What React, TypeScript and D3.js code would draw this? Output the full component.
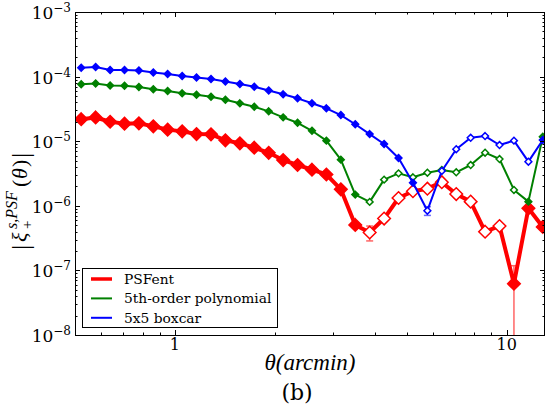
import React, { useEffect, useRef } from "react";
import * as d3 from "d3";

// angular bins (arcmin)
const theta = [
  0.522, 0.577, 0.638, 0.705, 0.779, 0.861, 0.951, 1.052, 1.162, 1.285, 1.42,
  1.57, 1.735, 1.918, 2.12, 2.343, 2.59, 2.862, 3.164, 3.497, 3.865, 4.272,
  4.722, 5.219, 5.769, 6.376, 7.048, 7.79, 8.61, 9.517, 10.52, 11.63, 12.85
];

// |xi_+| for each PSF model
const psfent = [
  2.19e-5, 2.33e-5, 2.0e-5, 1.87e-5, 1.89e-5, 1.7e-5, 1.51e-5, 1.42e-5, 1.29e-5,
  1.28e-5, 1.03e-5, 9.27e-6, 7.93e-6, 6.61e-6, 5.11e-6, 4.28e-6, 3.62e-6,
  3.05e-6, 1.8e-6, 5.05e-7, 3.86e-7, 6.35e-7, 1.32e-6, 1.68e-6, 1.84e-6,
  2.32e-6, 1.52e-6, 1.16e-6, 3.97e-7, 4.86e-7, 6.22e-8, 9.14e-7, 4.7e-7
];
const poly5 = [
  7.62e-5, 7.82e-5, 7.28e-5, 7.23e-5, 6.9e-5, 6.38e-5, 5.98e-5, 5.51e-5, 5.24e-5,
  4.88e-5, 4.39e-5, 3.86e-5, 3.42e-5, 2.9e-5, 2.34e-5, 1.93e-5, 1.45e-5, 1.02e-5,
  5.18e-6, 1.49e-6, 1.15e-6, 2.54e-6, 3.18e-6, 2.76e-6, 3.25e-6, 3.58e-6,
  3.3e-6, 4.28e-6, 6.64e-6, 5.3e-6, 1.76e-6, 1.16e-6, 1.17e-5
];
const boxcar = [
  1.374e-4, 1.41e-4, 1.265e-4, 1.265e-4, 1.242e-4, 1.156e-4, 1.096e-4, 1.021e-4,
  9.68e-5, 9.18e-5, 8.4e-5, 7.68e-5, 6.98e-5, 6.1e-5, 5.32e-5, 4.61e-5, 3.86e-5,
  3.23e-5, 2.54e-5, 1.83e-5, 1.29e-5, 9.05e-6, 5.5e-6, 2.28e-6, 8.4e-7, 3.46e-6,
  7.51e-6, 1.13e-5, 1.2e-5, 8.73e-6, 1.02e-5, 4.82e-6, 1.045e-5
];

// 1 = negative value (open marker)
const psfentNeg = [0,0,0,0,0,0,0,0,0,0,0,0,0,0,0,0,0,0,0,0,1,1,1,1,1,1,1,1,1,1,0,0,0];
const poly5Neg = [0,0,0,0,0,0,0,0,0,0,0,0,0,0,0,0,0,0,0,0,1,1,1,1,1,1,1,1,1,1,1,0,0];
const boxcarNeg = [0,0,0,0,0,0,0,0,0,0,0,0,0,0,0,0,0,0,0,0,0,0,0,0,1,1,1,1,1,1,1,1,0];

// error bars (only the visible ones)
const psfentErr = [0,0,0,0,0,0,0,0,0,0,0,0,0,0,0,0,0,0,0,0,1.0e-7,0,0,0,0,0,0,0,0,0,5.6e-8,0,0];
const poly5Err = [0,0,0,0,0,0,0,0,0,0,0,0,0,0,0,0,0,0,0,0,0,0,0,0,0,0,0,0,0,0,0,0,0];
const boxcarErr = [0,0,0,0,0,0,0,0,0,0,0,0,0,0,0,0,0,0,0,0,0,0,0,0,1.3e-7,0,0,0,0,0,0,0,0];

const labels = ["PSFent", "5th-order polynomial", "5x5 boxcar"];
const colors = ["#ff0000", "#008000", "#0000ff"];
const yTickExps = [-3, -4, -5, -6, -7, -8];

const W = 548;
const H = 412;
const left = 75, right = 545, top = 12, bottom = 335;

export default function App() {
  const ref = useRef<SVGSVGElement>(null);

  useEffect(() => {
    const svg = d3.select(ref.current);
    svg.selectAll("*").remove();

    const x = d3.scaleLog().domain([0.5, 13.05]).range([left, right]);
    const y = d3.scaleLog().domain([1e-8, 1e-3]).range([bottom, top]);

    svg.append("rect").attr("width", W).attr("height", H).attr("fill", "#fff");

    svg.append("clipPath").attr("id", "plotclip")
      .append("rect").attr("x", left).attr("y", top)
      .attr("width", right - left).attr("height", bottom - top);

    const plot = svg.append("g").attr("clip-path", "url(#plotclip)");

    const series = [
      { vals: psfent, neg: psfentNeg, err: psfentErr, lw: 4, r: 6.3, sw: 1.5 },
      { vals: poly5, neg: poly5Neg, err: poly5Err, lw: 2, r: 3.4, sw: 1.5 },
      { vals: boxcar, neg: boxcarNeg, err: boxcarErr, lw: 2, r: 3.4, sw: 1.5 }
    ];

    const diamond = (cx: number, cy: number, r: number) =>
      `M${cx},${cy - r}L${cx + r},${cy}L${cx},${cy + r}L${cx - r},${cy}Z`;

    series.forEach((s, si) => {
      const c = colors[si];
      const line = d3.line<number>()
        .x((d, i) => x(theta[i]))
        .y((d) => y(d));
      plot.append("path")
        .attr("d", line(s.vals))
        .attr("fill", "none")
        .attr("stroke", c)
        .attr("stroke-width", s.lw)
        .attr("stroke-linejoin", "round");

      // error bars
      s.vals.forEach((v, i) => {
        if (!s.err[i]) return;
        const lo = v - s.err[i] > 1e-9 ? y(v - s.err[i]) : bottom + 5;
        const hi = y(v + s.err[i]);
        const cx = x(theta[i]);
        const g = plot.append("g").attr("stroke", c).attr("stroke-width", 1.5).attr("opacity", 0.6);
        g.append("line").attr("x1", cx).attr("x2", cx).attr("y1", lo).attr("y2", hi);
        g.append("line").attr("x1", cx - 3.5).attr("x2", cx + 3.5).attr("y1", hi).attr("y2", hi);
        if (lo < bottom) g.append("line").attr("x1", cx - 3.5).attr("x2", cx + 3.5).attr("y1", lo).attr("y2", lo);
      });

      s.vals.forEach((v, i) => {
        plot.append("path")
          .attr("d", diamond(x(theta[i]), y(v), s.r))
          .attr("fill", s.neg[i] ? "#fff" : c)
          .attr("stroke", c)
          .attr("stroke-width", s.sw);
      });
    });

    // ticks on all four sides, pointing inward
    const axes = svg.append("g").attr("stroke", "#000").attr("stroke-width", 1);
    x.ticks().forEach((t) => {
      const major = Math.abs(Math.log10(t) - Math.round(Math.log10(t))) < 1e-9;
      const len = major ? 5 : 2.5;
      const px = Math.round(x(t)) + 0.5;
      axes.append("line").attr("x1", px).attr("x2", px).attr("y1", bottom).attr("y2", bottom - len);
      axes.append("line").attr("x1", px).attr("x2", px).attr("y1", top).attr("y2", top + len);
    });
    y.ticks().forEach((t) => {
      const major = Math.abs(Math.log10(t) - Math.round(Math.log10(t))) < 1e-9;
      const len = major ? 5 : 2.5;
      const py = Math.round(y(t)) + 0.5;
      axes.append("line").attr("x1", left).attr("x2", left + len).attr("y1", py).attr("y2", py);
      axes.append("line").attr("x1", right).attr("x2", right - len).attr("y1", py).attr("y2", py);
    });
    svg.append("rect")
      .attr("x", left + 0.5).attr("y", top + 0.5)
      .attr("width", right - left - 1).attr("height", bottom - top)
      .attr("fill", "none").attr("stroke", "#000").attr("stroke-width", 1);

    const font = "'DejaVu Serif', serif";

    // y tick labels
    yTickExps.forEach((e) => {
      const t = svg.append("text")
        .attr("x", 71).attr("y", y(Math.pow(10, e)) + 7)
        .attr("text-anchor", "end")
        .attr("font-family", font).attr("font-size", 17).attr("fill", "#000");
      t.append("tspan").text("10");
      t.append("tspan").attr("dy", -7).attr("font-size", 12).text("\u2212" + Math.abs(e));
    });

    // x tick labels
    [1, 10].forEach((v) => {
      svg.append("text")
        .attr("x", x(v)).attr("y", 350)
        .attr("text-anchor", "middle")
        .attr("font-family", font).attr("font-size", 16).attr("fill", "#000")
        .text(String(v));
    });

    const math = "'Liberation Serif', serif";
    svg.append("text")
      .attr("x", (left + right) / 2).attr("y", 370)
      .attr("text-anchor", "middle")
      .attr("font-family", math).attr("font-size", 23).attr("font-style", "italic")
      .attr("fill", "#000")
      .text("θ(arcmin)");

    svg.append("text")
      .attr("x", 297).attr("y", 400)
      .attr("text-anchor", "middle")
      .attr("font-family", font).attr("font-size", 22).attr("fill", "#000")
      .text("(b)");

    // y label, rotated
    const yl = svg.append("g")
      .attr("transform", "translate(27,187) rotate(-90)")
      .attr("font-family", math).attr("fill", "#000");
    yl.append("text").attr("x", -63).attr("y", 2).attr("font-size", 26).text("|");
    yl.append("text").attr("x", -55).attr("y", 0).attr("font-size", 22).attr("font-style", "italic").text("ξ");
    yl.append("text").attr("x", -42).attr("y", 5).attr("font-size", 15).text("+");
    yl.append("text").attr("x", -42).attr("y", -10).attr("font-size", 16).attr("font-style", "italic").text("s,PSF");
    yl.append("text").attr("x", 0).attr("y", 0).attr("font-size", 22).text("(");
    yl.append("text").attr("x", 8).attr("y", 0).attr("font-size", 22).attr("font-style", "italic").text("θ");
    yl.append("text").attr("x", 20).attr("y", 0).attr("font-size", 22).text(")");
    yl.append("text").attr("x", 29).attr("y", 2).attr("font-size", 26).text("|");

    // legend
    const lg = svg.append("g");
    lg.append("rect")
      .attr("x", 82.5).attr("y", 268.5).attr("width", 195).attr("height", 59)
      .attr("fill", "#fff").attr("stroke", "#000").attr("stroke-width", 1);
    labels.forEach((lab, i) => {
      const cy = 279 + i * 19.4;
      lg.append("line")
        .attr("x1", 91).attr("x2", 112).attr("y1", cy).attr("y2", cy)
        .attr("stroke", colors[i]).attr("stroke-width", i === 0 ? 3.5 : 2);
      lg.append("text")
        .attr("x", 124).attr("y", cy + 5)
        .attr("font-family", font).attr("font-size", 13.8).attr("fill", "#000")
        .text(lab);
    });
  }, []);

  return (
    <svg
      ref={ref}
      width={W}
      height={H}
      style={{ position: "absolute", left: 0, top: 0 }}
    />
  );
}
